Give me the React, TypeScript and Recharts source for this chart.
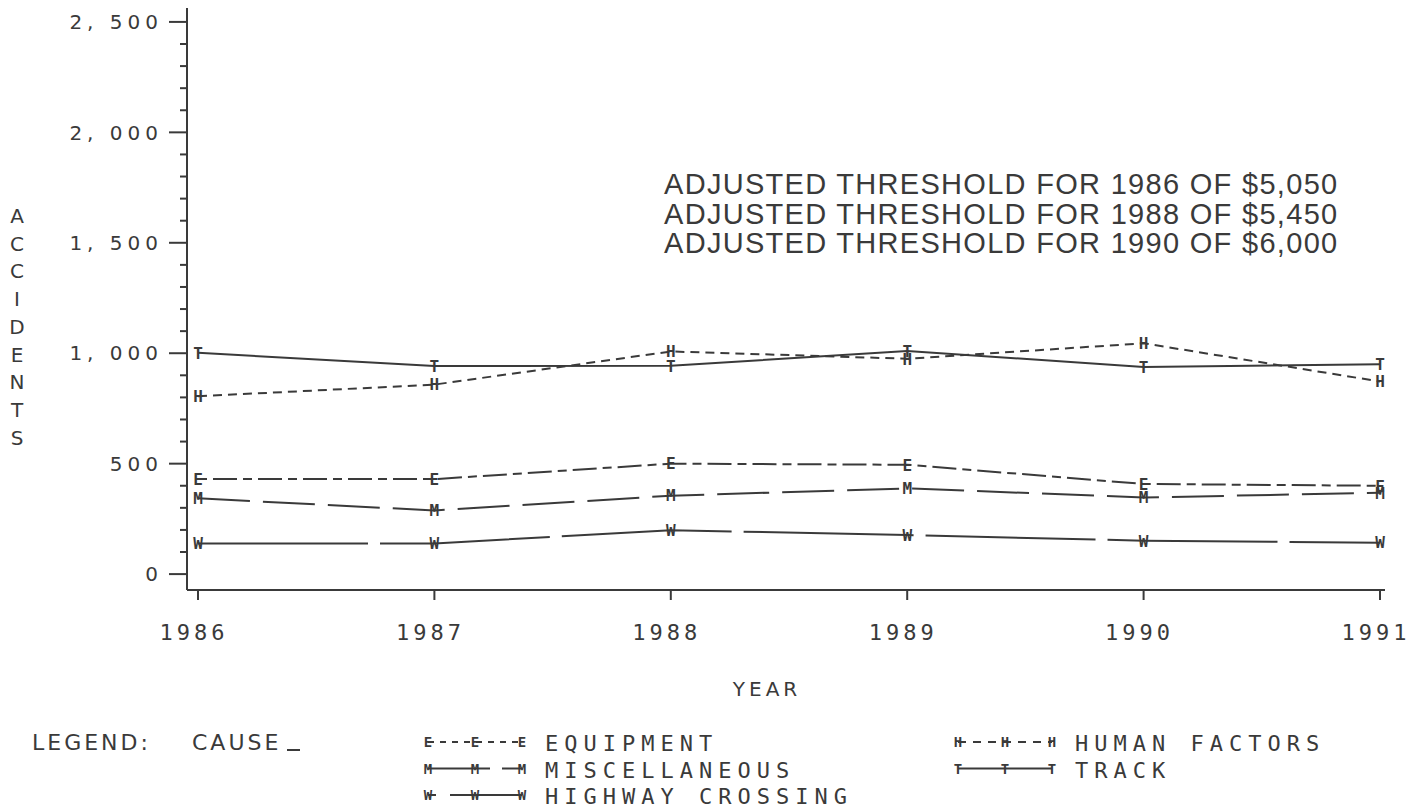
import React from 'react';
import { LineChart, Line, XAxis, YAxis, Legend } from 'recharts';

const years = ['1986', '1987', '1988', '1989', '1990', '1991'];
const equipment = [430, 430, 500, 495, 408, 400];
const humanFactors = [805, 858, 1008, 975, 1045, 872];
const miscellaneous = [343, 288, 355, 388, 347, 368];
const track = [1002, 942, 943, 1010, 938, 950];
const highwayCrossing = [139, 139, 199, 177, 151, 142];

const yMajorTicks = [0, 500, 1000, 1500, 2000, 2500];
const yMajorLabels = ['0', '500', '1, 000', '1, 500', '2, 000', '2, 500'];
const yAllTicks = Array.from({ length: 26 }, (_, i) => i * 100);

const thresholdNotes = [
  'ADJUSTED THRESHOLD FOR 1986 OF $5,050',
  'ADJUSTED THRESHOLD FOR 1988 OF $5,450',
  'ADJUSTED THRESHOLD FOR 1990 OF $6,000',
];

const INK = '#3a3a3a';
const MONO = '"DejaVu Sans Mono", monospace';
const WIDE = '"DejaVu Sans", sans-serif';

const series = [
  { key: 'equipment', name: 'EQUIPMENT', letter: 'E', dash: '9 6 24 6', legendDash: '6 6', col: 0, row: 0 },
  { key: 'miscellaneous', name: 'MISCELLANEOUS', letter: 'M', dash: '52 13', legendDash: '62 12', col: 0, row: 1 },
  { key: 'highwayCrossing', name: 'HIGHWAY CROSSING', letter: 'W', dash: '170 12', legendDash: '8 14 200', col: 0, row: 2 },
  { key: 'humanFactors', name: 'HUMAN FACTORS', letter: 'H', dash: '9 6', legendDash: '8 7', col: 1, row: 0 },
  { key: 'track', name: 'TRACK', letter: 'T', dash: undefined, legendDash: undefined, col: 1, row: 1 },
];

const data = years.map((year, i) => ({
  year,
  equipment: equipment[i],
  humanFactors: humanFactors[i],
  miscellaneous: miscellaneous[i],
  track: track[i],
  highwayCrossing: highwayCrossing[i],
}));

const letterDot = (letter: string) => (props: any) => {
  const { cx, cy, index } = props;
  return (
    <text key={`${letter}-${index}`} x={cx} y={cy} dy="0.36em" textAnchor="middle"
      fontSize={16} fontWeight="bold" fontFamily={MONO} fill={INK}>
      {letter}
    </text>
  );
};

const YTick = ({ x, y, payload }: any) => {
  const idx = yMajorTicks.indexOf(payload.value);
  const major = idx >= 0;
  return (
    <g>
      <line x1={x - (major ? 18 : 7)} x2={x + 1} y1={y} y2={y} stroke={INK} strokeWidth={2} />
      {major && (
        <text x={x - 24} y={y} dy="0.36em" textAnchor="end" fontSize={20} letterSpacing={5}
          fontFamily={WIDE} fill={INK}>
          {yMajorLabels[idx]}
        </text>
      )}
    </g>
  );
};

const XTick = ({ x, y, payload }: any) => (
  <text x={x - 4} y={y + 40} textAnchor="middle" fontSize={22} letterSpacing={4}
    fontFamily={MONO} fill={INK}>
    {payload.value}
  </text>
);

const LegendBox = () => (
  <svg width={1421} height={85} style={{ display: 'block' }}>
    <text x={32} y={25} fontSize={22} letterSpacing={3} fontFamily={WIDE} fill={INK}>LEGEND:</text>
    <text x={192} y={25} fontSize={22} letterSpacing={3} fontFamily={WIDE} fill={INK}>CAUSE</text>
    <line x1={287} x2={300} y1={25} y2={25} stroke={INK} strokeWidth={2} />
    {series.map((s) => {
      const x0 = s.col === 0 ? 428 : 958;
      const y = 17 + s.row * 26.5;
      return (
        <g key={s.key}>
          <line x1={x0} x2={x0 + 94} y1={y} y2={y} stroke={INK} strokeWidth={2}
            strokeDasharray={s.legendDash} />
          {[0, 47, 94].map((dx) => (
            <text key={dx} x={x0 + dx} y={y} dy="0.36em" textAnchor="middle" fontSize={14}
              fontWeight="bold" fontFamily={MONO} fill={INK}>{s.letter}</text>
          ))}
          <text x={x0 + 117} y={y + 9} fontSize={22} letterSpacing={6} fontFamily={MONO} fill={INK}>
            {s.name}
          </text>
        </g>
      );
    })}
  </svg>
);

const App: React.FC = () => (
  <div style={{ position: 'absolute', left: 0, top: 0, width: 1421, height: 810, background: '#fff' }}>
    <LineChart width={1421} height={810} data={data} margin={{ top: 8, right: 36, left: 0, bottom: 100 }}>
      <XAxis dataKey="year" padding={{ left: 11, right: 5 }} height={120}
        axisLine={{ stroke: INK, strokeWidth: 2 }} tickLine={{ stroke: INK, strokeWidth: 2 }}
        tickSize={10} tickMargin={0} tick={<XTick />} interval={0}
        label={{
          content: ({ viewBox }: any) => (
            <text x={viewBox.x + viewBox.width / 2 - 19} y={viewBox.y + 106} textAnchor="middle"
              fontSize={20} letterSpacing={4} fontFamily={WIDE} fill={INK}>YEAR</text>
          ),
        }} />
      <YAxis type="number" domain={[-72, 2563]} ticks={yAllTicks} interval={0} width={187}
        axisLine={{ stroke: INK, strokeWidth: 2 }} tickLine={false} tickSize={0} tickMargin={0}
        tick={<YTick />}
        label={{
          content: () => (
            <text x={17} y={222} textAnchor="middle" fontSize={20} fontFamily={WIDE} fill={INK}>
              {'ACCIDENTS'.split('').map((c, i) => (
                <tspan key={i} x={17} y={223 + i * 27.7}>{c}</tspan>
              ))}
            </text>
          ),
        }} />
      <Legend layout="vertical" align="center" verticalAlign="middle" content={<LegendBox />}
        wrapperStyle={{ left: 0, top: 725, width: 1421, height: 85 }} />
      {series.map((s) => (
        <Line key={s.key} type="linear" dataKey={s.key} name={s.name} stroke={INK} strokeWidth={2}
          strokeDasharray={s.dash} dot={letterDot(s.letter)} activeDot={false}
          isAnimationActive={false} />
      ))}
    </LineChart>
    <svg width={1421} height={810} style={{ position: 'absolute', left: 0, top: 0, pointerEvents: 'none' }}>
      {thresholdNotes.map((t, i) => (
        <text key={i} x={664} y={194 + i * 29.5} fontSize={29} letterSpacing={1.3}
          fontFamily='"Liberation Sans", Arial, sans-serif' fill={INK}>{t}</text>
      ))}
    </svg>
  </div>
);

export default App;
